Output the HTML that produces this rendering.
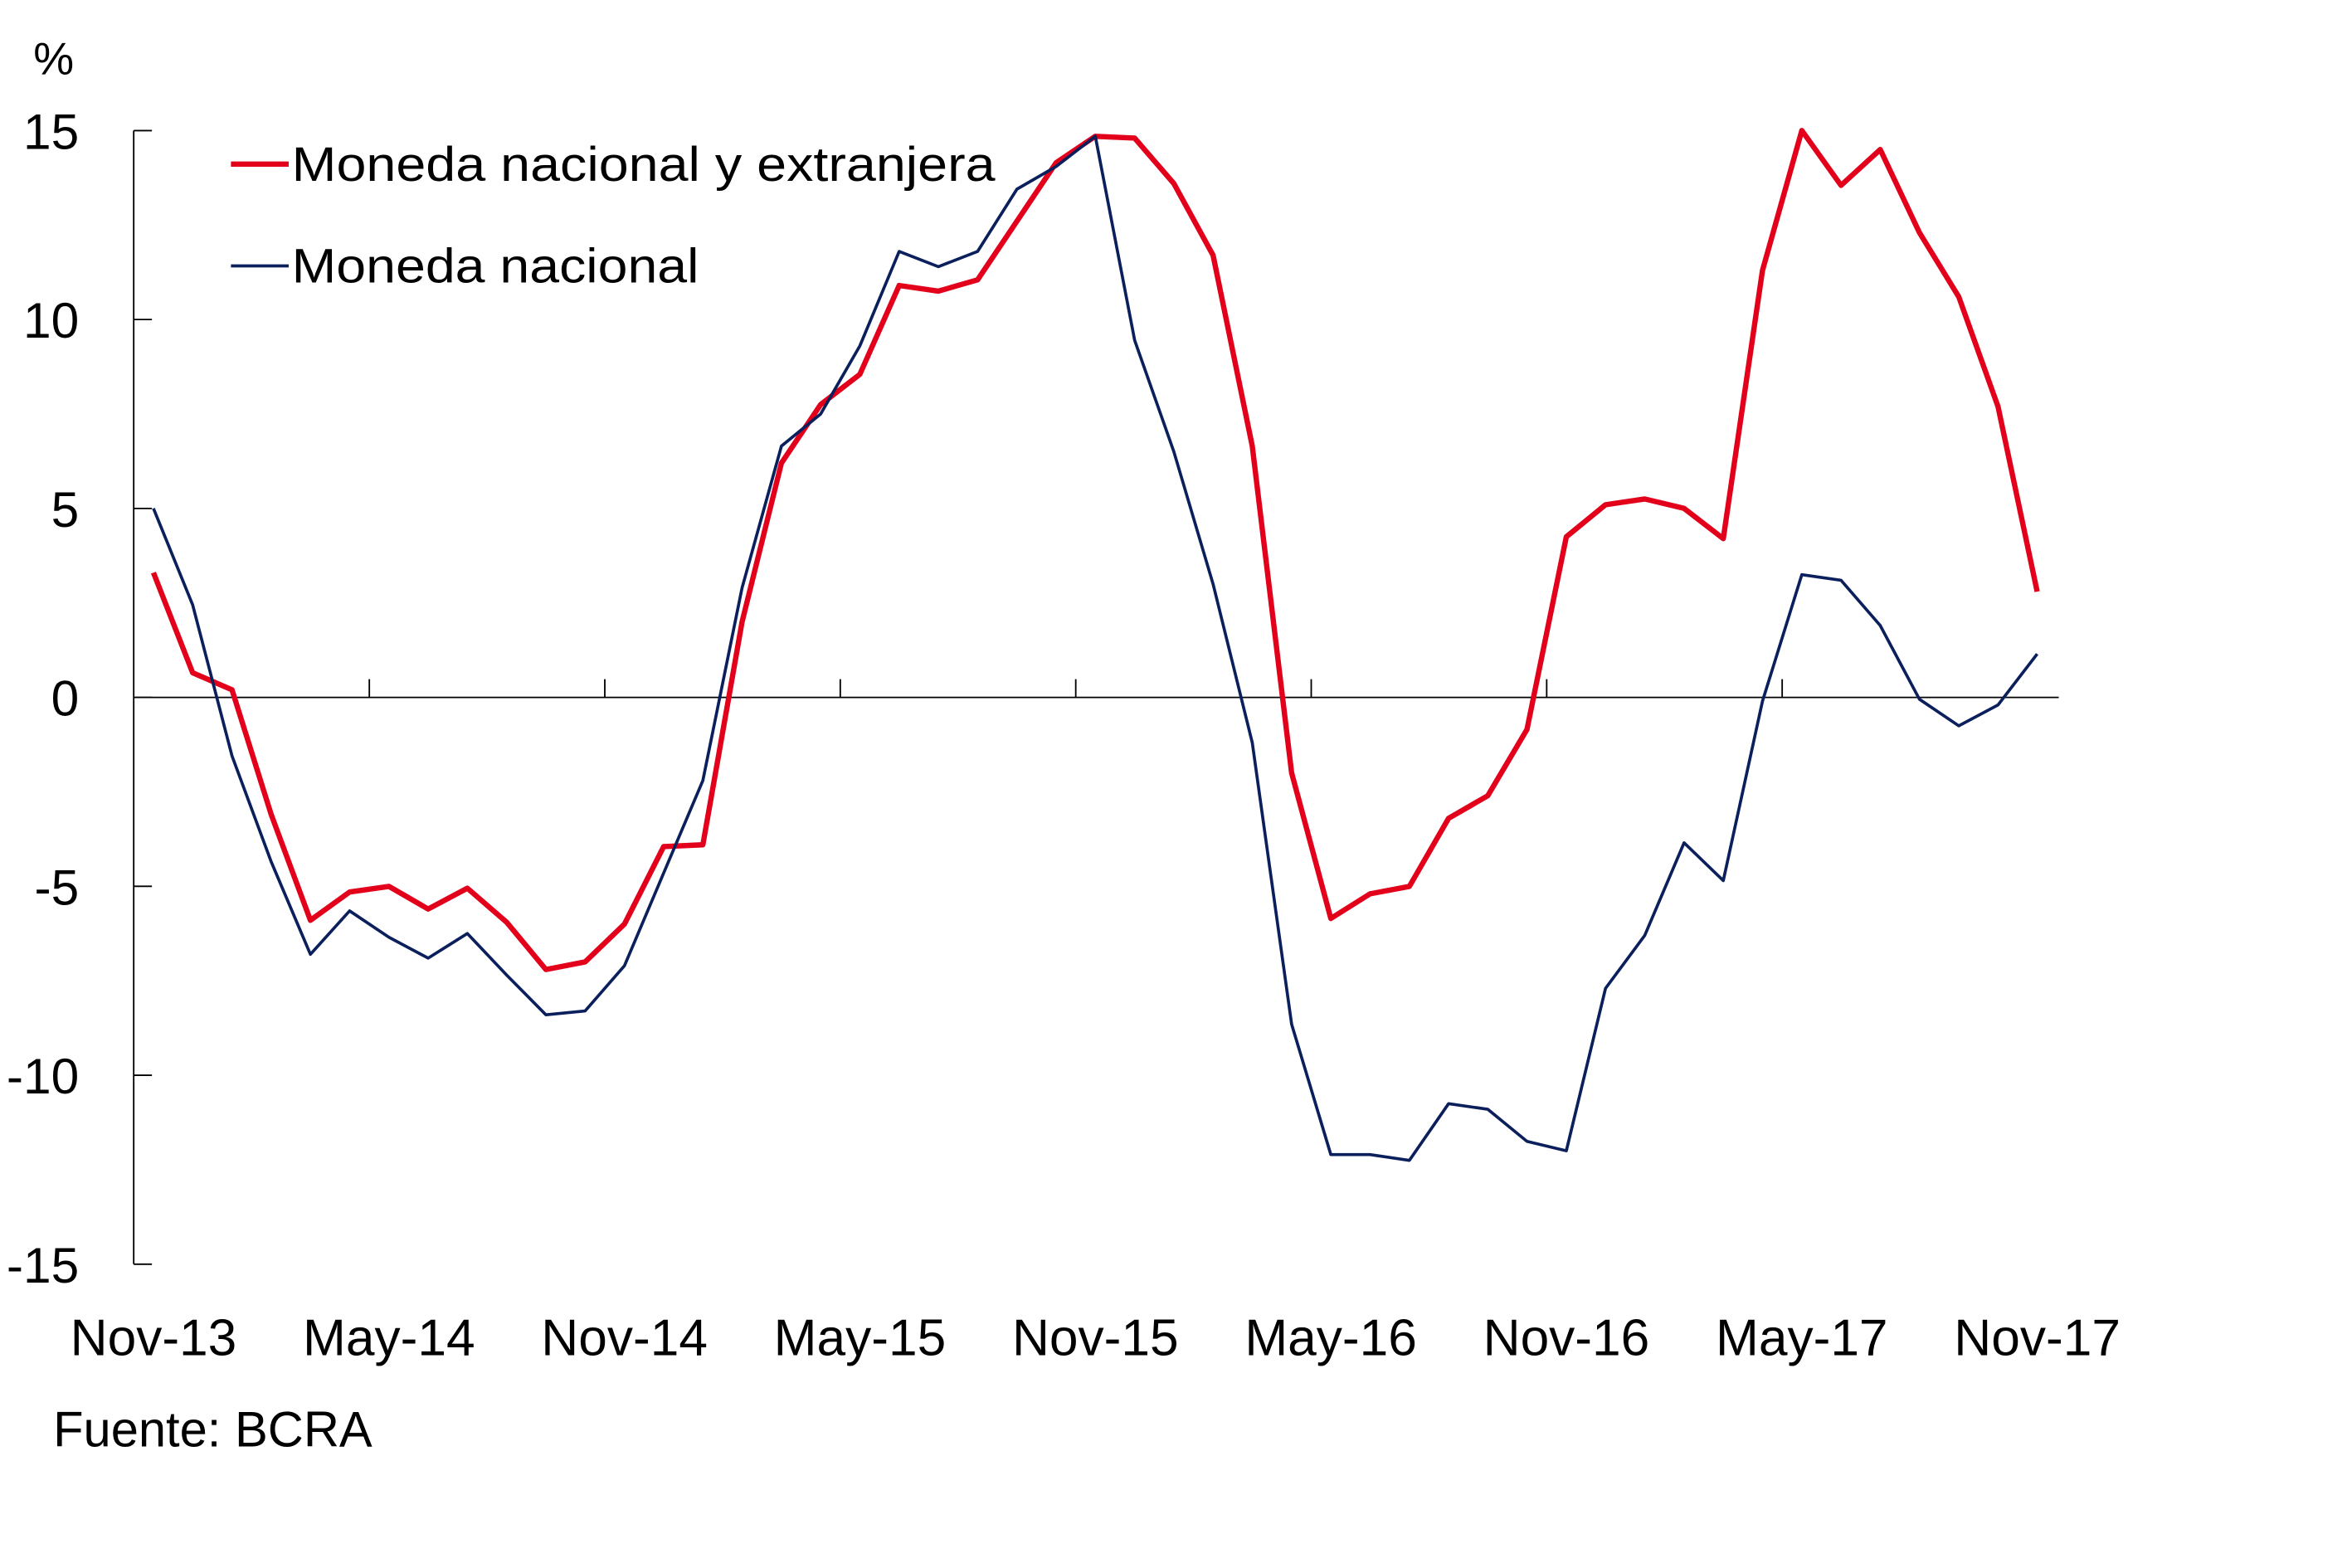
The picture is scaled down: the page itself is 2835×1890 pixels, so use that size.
<!DOCTYPE html>
<html><head><meta charset="utf-8"><style>
html,body{margin:0;padding:0;background:#fff;}
svg{display:block;}
text{font-family:"Liberation Sans",sans-serif;fill:#000;}
</style></head><body>
<svg id="chart" width="2835" height="1890" viewBox="0 0 1548 1032" xmlns="http://www.w3.org/2000/svg">
<text x="22" y="49" font-size="30">%</text>
<g id="axes"></g>
<g id="series"></g>
<g>
 <line x1="152" y1="108" x2="190" y2="108" stroke="#e3001b" stroke-width="3.5"/>
 <text x="192" y="119" font-size="32" textLength="463" lengthAdjust="spacingAndGlyphs">Moneda nacional y extranjera</text>
 <line x1="152" y1="175" x2="190" y2="175" stroke="#0a1f5c" stroke-width="2"/>
 <text x="192" y="186" font-size="32" textLength="268" lengthAdjust="spacingAndGlyphs">Moneda nacional</text>
</g>
<text x="35" y="952" font-size="33" textLength="210" lengthAdjust="spacingAndGlyphs">Fuente: BCRA</text>
</svg>
<script>
const xTickLabels = ["Nov-13","May-14","Nov-14","May-15","Nov-15","May-16","Nov-16","May-17","Nov-17"];
const yTicks = [15,10,5,0,-5,-10,-15];
const totalValues = [3.3,0.65,0.2,-3.1,-5.9,-5.15,-5.0,-5.6,-5.05,-5.95,-7.2,-7.0,-6.0,-3.95,-3.9,2.0,6.2,7.75,8.55,10.9,10.75,11.05,12.6,14.15,14.85,14.8,13.6,11.7,6.65,-2.0,-5.85,-5.2,-5.0,-3.2,-2.6,-0.85,4.25,5.1,5.25,5.0,4.2,11.3,15.0,13.55,14.5,12.3,10.6,7.7,2.8];
const nationalValues = [5.0,2.45,-1.55,-4.35,-6.8,-5.65,-6.35,-6.9,-6.25,-7.35,-8.4,-8.3,-7.1,-4.65,-2.2,2.9,6.65,7.5,9.3,11.8,11.4,11.8,13.45,14.05,14.85,9.45,6.5,3.0,-1.2,-8.65,-12.1,-12.1,-12.25,-10.75,-10.9,-11.75,-12.0,-7.7,-6.3,-3.85,-4.85,-0.1,3.25,3.1,1.9,-0.05,-0.75,-0.2,1.15];

const NS="http://www.w3.org/2000/svg";
const y0=459, yPer=24.87, x0=101, xPer=25.83;
function yScale(v){return y0 - v*yPer;}
function xScale(i){return x0 + i*xPer;}
function mk(tag,attrs,parent){const e=document.createElementNS(NS,tag);for(const k in attrs)e.setAttribute(k,attrs[k]);parent.appendChild(e);return e;}
const axes=document.getElementById('axes');
let l=mk('line',{x1:88,y1:86,x2:88,y2:832,stroke:'#000','stroke-width':1},axes);


yTicks.forEach(v=>{
  const t=mk('line',{x1:88,y1:yScale(v),x2:100,y2:yScale(v),stroke:'#000','stroke-width':1},axes);
  
  
  const tx=mk('text',{x:52,y:yScale(v)+12,'font-size':33,'text-anchor':'end'},axes);
  tx.textContent=String(v);
  
  
});
l=mk('line',{x1:88,y1:yScale(0),x2:1355,y2:yScale(0),stroke:'#000','stroke-width':1},axes);


xTickLabels.forEach((lab,k)=>{
  const i=k*6;
  const xt=xScale(i)-12.9;
  if(k>0&&k<8){
    const t=mk('line',{x1:xt,y1:yScale(0),x2:xt,y2:yScale(0)-12,stroke:'#000','stroke-width':1},axes);
    
    
  }
  const tx=mk('text',{x:xScale(i),y:892,'font-size':34,'text-anchor':'middle'},axes);
  tx.textContent=lab;
  
  
});
const series=document.getElementById('series');
function drawLine(vals,color,w,name){
  const d=vals.map((v,i)=>(i?'L':'M')+xScale(i).toFixed(1)+','+yScale(v).toFixed(1)).join(' ');
  const p=mk('path',{d:d,fill:'none',stroke:color,'stroke-width':w,'stroke-linejoin':'round'},series);
  
  
}
drawLine(totalValues,'#e3001b',3.5,'line-moneda-nacional-y-extranjera');
drawLine(nationalValues,'#0a1f5c',2,'line-moneda-nacional');
</script>
</body></html>
